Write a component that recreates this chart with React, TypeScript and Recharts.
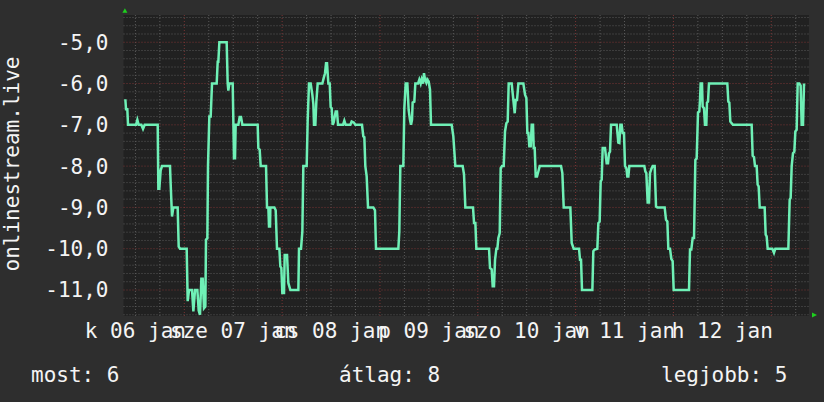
import { LineChart, Line, XAxis, YAxis, CartesianGrid } from "recharts";

const FONT = '"DejaVu Sans Mono", monospace';

// [hour since 2015-01-06 00:00, value]
const SEG_06: [number, number][] = [
  [9.53, -6.38], [9.7, -6.62], [10.02, -6.62], [10.19, -7.0], [12.15, -7.0], [12.48, -6.88],
  [12.8, -7.0], [13.46, -7.0], [13.87, -7.1], [14.28, -7.0], [17.47, -7.0], [17.63, -8.55],
  [17.87, -8.55], [18.2, -8.1], [18.53, -8.0], [20.49, -8.0], [20.66, -8.45], [20.98, -9.22],
  [21.31, -9.0], [22.37, -9.0], [22.62, -9.95], [22.95, -10.0],
];

const SEG_07: [number, number][] = [
  [24.58, -10.0], [24.83, -11.27], [25.15, -11.0], [25.89, -11.0], [26.22, -11.52], [26.63, -11.0],
  [27.2, -11.0], [27.53, -11.5], [27.85, -11.6], [28.18, -10.73], [28.51, -10.73], [28.83, -11.44],
  [29.16, -11.4], [29.32, -9.78], [29.65, -9.75], [29.81, -8.0], [30.14, -6.8], [30.47, -6.8],
  [30.8, -6.0], [31.94, -6.0], [32.19, -5.47], [32.35, -5.47], [32.6, -5.0], [34.39, -5.0],
  [34.64, -6.0], [34.8, -6.17], [35.05, -6.0], [35.87, -6.0], [36.19, -7.81], [36.44, -7.81],
  [36.6, -7.0], [37.26, -7.0], [37.58, -6.81], [37.91, -6.81], [38.24, -7.0], [42.0, -7.0],
  [42.16, -7.56], [42.49, -7.6], [42.74, -8.0], [44.05, -8.0], [44.29, -9.0], [44.62, -9.0],
  [44.78, -9.46], [45.03, -9.46], [45.11, -9.0], [46.09, -9.0], [46.42, -9.07], [46.74, -10.0],
  [47.32, -10.0],
];

const SEG_08: [number, number][] = [
  [47.56, -10.43], [47.81, -10.47], [48.05, -11.07], [48.46, -11.07], [48.63, -10.15], [49.2, -10.15],
  [49.52, -10.83], [50.02, -11.0], [51.98, -11.0], [52.14, -10.0], [52.63, -10.0], [52.96, -9.58],
  [53.2, -8.0], [54.02, -8.0], [54.27, -6.88], [54.59, -6.0], [55.0, -6.0], [55.41, -6.27],
  [55.66, -6.5], [55.82, -7.0], [56.15, -7.0], [56.39, -6.44], [56.72, -6.0], [57.87, -6.0],
  [58.19, -5.87], [58.52, -5.75], [58.77, -5.51], [59.01, -5.51], [59.34, -6.0], [59.67, -6.0],
  [59.91, -6.57], [60.16, -6.6], [60.4, -7.0], [60.65, -6.94], [61.14, -6.68], [61.46, -6.68],
  [61.71, -7.0], [62.94, -7.0], [63.26, -6.9], [63.59, -7.0], [64.74, -7.0], [65.06, -6.92],
  [65.63, -6.95], [65.96, -7.0], [67.59, -7.0], [67.92, -7.28], [68.17, -7.3], [68.41, -8.0],
  [68.74, -8.25], [69.07, -9.0], [70.37, -9.0], [70.78, -9.07], [71.03, -10.0],
];

const SEG_09: [number, number][] = [
  [76.51, -10.0], [76.75, -9.58], [77.0, -8.0], [77.73, -8.0], [77.98, -6.6], [78.31, -6.0],
  [78.72, -6.0], [79.04, -6.64], [79.37, -6.88], [79.62, -7.0], [79.86, -6.88], [80.02, -6.46],
  [80.43, -6.44], [80.68, -6.0], [81.33, -6.0], [81.66, -5.9], [81.99, -6.0], [82.23, -5.9],
  [82.56, -6.0], [82.8, -5.75], [83.05, -5.9], [83.38, -5.98], [83.62, -5.9], [83.95, -5.95],
  [84.28, -6.15], [84.52, -7.0], [89.59, -7.0], [90.0, -7.28], [90.49, -8.0], [92.29, -8.0],
  [92.62, -8.2], [92.95, -9.0], [94.83, -9.0], [95.08, -9.38], [95.41, -9.38], [95.65, -10.0],
];

const SEG_10: [number, number][] = [
  [98.76, -10.0], [99.0, -10.47], [99.41, -10.5], [99.66, -10.91], [99.98, -10.91], [100.23, -10.27],
  [100.56, -10.0], [100.8, -10.0], [101.05, -9.74], [101.38, -9.62], [101.62, -8.05], [101.95, -8.0],
  [102.36, -8.0], [102.68, -7.16], [103.01, -6.96], [103.34, -6.92], [103.58, -6.0], [104.32, -6.0],
  [104.73, -6.4], [105.06, -6.72], [105.3, -6.4], [105.63, -6.4], [105.96, -6.0], [107.18, -6.0],
  [107.59, -6.27], [107.92, -6.35], [108.16, -7.2], [108.41, -7.2], [108.65, -7.52], [108.98, -7.52],
  [109.23, -7.0], [109.55, -7.0], [109.72, -7.56], [109.96, -7.56], [110.21, -8.25], [110.53, -8.25],
  [110.86, -8.13], [111.19, -8.0], [116.42, -8.0], [116.75, -8.17], [117.08, -9.0], [118.71, -9.0],
  [119.04, -9.86], [119.53, -10.0], [120.84, -10.0], [121.08, -10.27], [121.33, -10.27], [121.57, -11.0],
];

const SEG_11: [number, number][] = [
  [124.11, -11.0], [124.35, -10.06], [124.68, -10.02], [125.33, -10.0], [125.58, -9.38], [125.9, -9.34],
  [126.15, -8.37], [126.4, -8.33], [126.64, -7.56], [127.21, -7.56], [127.62, -7.93], [127.95, -7.93],
  [128.19, -7.69], [128.44, -7.65], [128.69, -7.0], [130.08, -7.0], [130.48, -7.43], [130.73, -7.44],
  [130.98, -7.0], [131.3, -7.0], [131.55, -7.2], [131.87, -7.2], [132.12, -8.0], [132.45, -8.05],
  [132.69, -8.25], [132.94, -8.25], [133.18, -8.0], [136.86, -8.0], [137.11, -8.13], [137.35, -8.17],
  [137.68, -8.88], [138.01, -8.88], [138.25, -8.17], [138.58, -8.07], [138.91, -8.0], [139.4, -8.0],
  [139.73, -8.98], [140.05, -9.0], [141.85, -9.0], [142.18, -9.3], [142.51, -9.34], [142.75, -10.0],
  [143.16, -10.0], [143.49, -10.25], [143.81, -10.3], [144.06, -11.0],
];

const SEG_12: [number, number][] = [
  [147.82, -11.0], [148.07, -10.02], [148.39, -10.02], [148.72, -9.74], [149.05, -9.74], [149.38, -7.85],
  [149.7, -7.81], [150.03, -6.7], [150.35, -6.68], [150.52, -6.4], [150.68, -6.0], [151.01, -6.0],
  [151.17, -6.56], [151.5, -6.6], [151.74, -7.0], [152.07, -7.0], [152.23, -6.46], [152.48, -6.44],
  [152.72, -6.0], [157.22, -6.0], [157.47, -6.44], [157.71, -6.46], [157.96, -6.92], [158.29, -6.96],
  [158.61, -7.0], [163.19, -7.0], [163.44, -7.75], [163.77, -7.78], [164.01, -8.0], [164.42, -8.0],
  [164.66, -8.45], [164.91, -8.49], [165.16, -9.0], [166.38, -9.0], [166.63, -9.66], [166.87, -9.7],
  [167.12, -10.0], [168.26, -10.0], [168.67, -10.1], [169.0, -10.0], [172.19, -10.0], [172.52, -8.81],
  [172.76, -8.77], [173.01, -8.0], [173.33, -7.69], [173.66, -7.65], [173.91, -7.16], [174.23, -7.12],
  [174.48, -6.0], [174.89, -6.0], [175.21, -6.05], [175.46, -7.0], [175.79, -7.0], [176.03, -6.03],
  [176.36, -6.03],
];

const DAY_LABELS = ["k 06 jan", "sze 07 jan", "cs 08 jan", "p 09 jan", "szo 10 jan", "v 11 jan", "h 12 jan"];
const LABEL_HOURS = [12, 36, 60, 84, 108, 132, 156];
const Y_TICKS = [-11, -10, -9, -8, -7, -6, -5];
const SERIES_NAME = "onlinestream.live";
const SUMMARY = ["most: 6", "átlag: 8", "legjobb: 5"];

// grid lines: 0.2 steps vertically, 6 hours horizontally
const MINOR_Y: number[] = [];
for (let i = 0; i <= 36; i++) {
  const v = Math.round((-11.6 + i * 0.2) * 10) / 10;
  if (!Number.isInteger(v)) MINOR_Y.push(v);
}
const MINOR_X: number[] = [];
const MAJOR_X: number[] = [];
for (let h = 12; h <= 174; h += 6) {
  if (h % 24 === 0) MAJOR_X.push(h);
  else MINOR_X.push(h);
}

const fmtY = (v: number) => v.toFixed(1).replace(".", ",");
const fmtX = (h: number) => DAY_LABELS[LABEL_HOURS.indexOf(h)] ?? "";

export default function App() {
  const data = [...SEG_06, ...SEG_07, ...SEG_08, ...SEG_09, ...SEG_10, ...SEG_11, ...SEG_12].map(
    ([h, v]) => ({ h, v })
  );
  const tickStyle = { fill: "#f4f4f4", fontSize: 21, fontFamily: FONT };

  return (
    <div
      style={{
        position: "absolute",
        left: 0,
        top: 0,
        width: 824,
        height: 402,
        background: "#2e2e2e",
        overflow: "hidden",
      }}
    >
      <LineChart
        width={824}
        height={402}
        data={data}
        margin={{ top: 15, right: 15, bottom: 56, left: 63.5 }}
      >
        <CartesianGrid
          fill="#212121"
          stroke="#5a5a5a"
          strokeDasharray="1 2"
          horizontalValues={MINOR_Y}
          verticalValues={MINOR_X}
        />
        <CartesianGrid
          stroke="#7a3434"
          strokeDasharray="1 2"
          horizontalValues={Y_TICKS}
          verticalValues={MAJOR_X}
        />
        <XAxis
          dataKey="h"
          type="number"
          domain={[9.08, 177.26]}
          allowDataOverflow
          ticks={LABEL_HOURS}
          interval={0}
          tickFormatter={fmtX}
          tickSize={0}
          tickMargin={7}
          axisLine={false}
          height={30}
          tick={tickStyle}
        />
        <YAxis
          type="number"
          domain={[-11.63, -4.34]}
          allowDataOverflow
          ticks={Y_TICKS}
          interval={0}
          tickFormatter={fmtY}
          tickSize={0}
          tickMargin={15}
          axisLine={false}
          width={60}
          tick={tickStyle}
        />
        <Line
          dataKey="v"
          type="linear"
          stroke="#6ff0b6"
          strokeWidth={2.5}
          dot={false}
          isAnimationActive={false}
        />
      </LineChart>
      <svg
        width={824}
        height={402}
        style={{ position: "absolute", left: 0, top: 0, pointerEvents: "none" }}
      >
        <polygon points="122.4,12.8 127.4,12.8 124.9,8.2" fill="#1ed01e" />
        <polygon points="812,312.5 812,317.5 817,315" fill="#1ed01e" />
        <text
          x={19}
          y={164}
          transform="rotate(-90, 19, 164)"
          textAnchor="middle"
          fill="#f4f4f4"
          fontSize={21}
          fontFamily={FONT}
        >
          {SERIES_NAME}
        </text>
        <text x={31} y={382} fill="#f4f4f4" fontSize={21} fontFamily={FONT}>
          {SUMMARY[0]}
        </text>
        <text x={339} y={382} fill="#f4f4f4" fontSize={21} fontFamily={FONT}>
          {SUMMARY[1]}
        </text>
        <text x={661} y={382} fill="#f4f4f4" fontSize={21} fontFamily={FONT}>
          {SUMMARY[2]}
        </text>
      </svg>
    </div>
  );
}
